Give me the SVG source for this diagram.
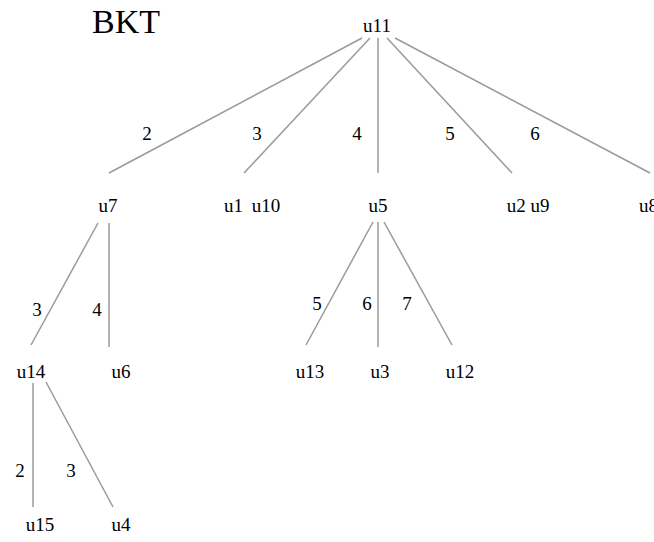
<svg xmlns="http://www.w3.org/2000/svg" width="654" height="542" viewBox="0 0 654 542">
<style>
text{font-family:"Liberation Serif","Times New Roman",serif;fill:#000;}
.n{font-size:19px;text-anchor:middle;}
.l{font-size:19px;text-anchor:middle;}
.e line{stroke:#9a9a9a;stroke-width:1.5;}
</style>
<rect width="654" height="542" fill="#fff"/>
<text x="92" y="33" style="font-size:34px">BKT</text>
<g class="e" id="connectors">
<line x1="362" y1="38" x2="109" y2="173"/>
<line x1="370" y1="38" x2="244" y2="173"/>
<line x1="378" y1="38" x2="378" y2="173"/>
<line x1="387" y1="38" x2="512" y2="173"/>
<line x1="395" y1="38" x2="650" y2="173"/>
<line x1="98" y1="223" x2="31" y2="345"/>
<line x1="109" y1="223" x2="109" y2="347"/>
<line x1="373" y1="222" x2="306" y2="345"/>
<line x1="378" y1="222" x2="378" y2="347"/>
<line x1="384" y1="222" x2="452" y2="345"/>
<line x1="33" y1="383" x2="33" y2="507"/>
<line x1="46" y1="382" x2="113" y2="507"/>
<text class="l" x="147" y="140">2</text>
<text class="l" x="257" y="140">3</text>
<text class="l" x="357" y="140">4</text>
<text class="l" x="450" y="140">5</text>
<text class="l" x="535" y="140">6</text>
<text class="l" x="37" y="316">3</text>
<text class="l" x="97" y="316">4</text>
<text class="l" x="317" y="310">5</text>
<text class="l" x="367" y="310">6</text>
<text class="l" x="407" y="310">7</text>
<text class="l" x="20" y="477">2</text>
<text class="l" x="71" y="477">3</text>
</g>
<g id="u11"><text class="n" x="377" y="32">u11</text></g>
<g id="u7"><text class="n" x="108" y="212">u7</text></g>
<g id="u1u10"><text x="224" y="212" style="font-size:19px;word-spacing:4px">u1 u10</text></g>
<g id="u5"><text class="n" x="378" y="212">u5</text></g>
<g id="u2u9"><text class="n" x="528" y="212">u2 u9</text></g>
<g id="u8"><text x="639" y="212" style="font-size:19px">u8</text></g>
<g id="u14"><text class="n" x="31" y="378">u14</text></g>
<g id="u6"><text class="n" x="121" y="378">u6</text></g>
<g id="u13"><text class="n" x="310" y="378">u13</text></g>
<g id="u3"><text class="n" x="380" y="378">u3</text></g>
<g id="u12"><text class="n" x="460" y="378">u12</text></g>
<g id="u15"><text class="n" x="40" y="531">u15</text></g>
<g id="u4"><text class="n" x="121" y="531">u4</text></g>
</svg>
